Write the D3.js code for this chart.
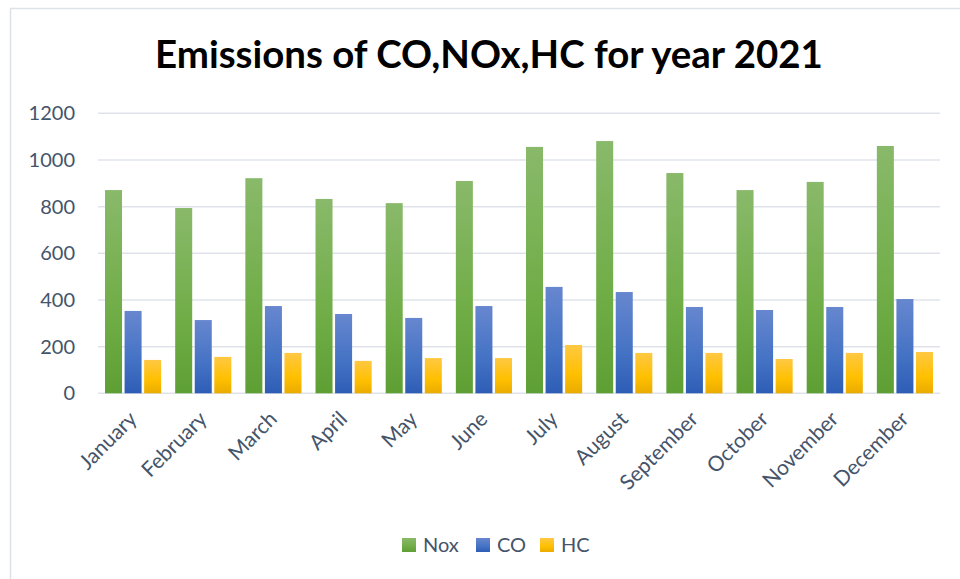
<!DOCTYPE html>
<html>
<head>
<meta charset="utf-8">
<script src="https://cdn.jsdelivr.net/npm/d3@7"></script>
<style>
  body { margin: 0; background: #fff; }
  text { font-family: Lato, "Noto Sans", sans-serif; }
</style>
</head>
<body>
<div id="chart"></div>
<script>
// data
const months = ["January", "February", "March", "April", "May", "June",
                "July", "August", "September", "October", "November", "December"];
const series = ["Nox", "CO", "HC"];
const noxValues = [871, 794, 922, 833, 815, 910, 1056, 1081, 944, 871, 906, 1060];
const coValues  = [353, 314, 374, 340, 323, 374, 456, 434, 370, 357, 370, 404];
const hcValues  = [143, 156, 173, 139, 151, 151, 207, 173, 173, 147, 173, 177];
const yTicks = [0, 200, 400, 600, 800, 1000, 1200];

// colours, top / middle / bottom of each gradient
const seriesColors = {
    Nox: ["#89b96a", "#70ad47", "#5e9f34"],
    CO:  ["#6787cf", "#4472c4", "#2e5db6"],
    HC:  ["#ffc843", "#ffc000", "#eaab00"]
};

const width = 960, height = 579;
const svg = d3.select("#chart").append("svg")
    .attr("width", width)
    .attr("height", height);

// gradients for bar fills
const defs = svg.append("defs");
series.forEach(s => {
    const g = defs.append("linearGradient")
        .attr("id", "grad-" + s)
        .attr("x1", 0).attr("y1", 0).attr("x2", 0).attr("y2", 1);
    g.append("stop").attr("offset", "0%").attr("stop-color", seriesColors[s][0]);
    g.append("stop").attr("offset", "60%").attr("stop-color", seriesColors[s][1]);
    g.append("stop").attr("offset", "100%").attr("stop-color", seriesColors[s][2]);
});

// chart frame (only left and top edges are visible)
svg.append("path")
    .attr("d", "M10.5,579 V8.5 H960")
    .attr("fill", "none")
    .attr("stroke", "#dde2e8")
    .attr("stroke-width", 1.5);

// title, scaled to fit the reference width
const title = svg.append("text")
    .attr("x", 489)
    .attr("y", 68)
    .attr("text-anchor", "middle")
    .attr("font-weight", "bold")
    .attr("font-size", 36)
    .attr("fill", "#000")
    .text("Emissions of CO,NOx,HC for year 2021");
const tw = title.node().getComputedTextLength();
title.attr("font-size", 36 * 668 / tw);

// scales
const plot = { left: 98, right: 940, top: 113.3, bottom: 393.3 };
const x = d3.scaleBand()
    .domain(months)
    .range([plot.left, plot.right])
    .paddingInner(0.2)
    .paddingOuter(0.1);
const xs = d3.scaleBand()
    .domain(series)
    .range([0, x.bandwidth()])
    .paddingInner(0.13);
const y = d3.scaleLinear()
    .domain([0, 1200])
    .range([plot.bottom, plot.top]);

// gridlines
svg.append("g")
    .selectAll("line")
    .data(yTicks)
    .enter()
        .append("line")
        .attr("x1", plot.left)
        .attr("x2", plot.right)
        .attr("y1", d => y(d))
        .attr("y2", d => y(d))
        .attr("stroke", "#dfe3e9")
        .attr("stroke-width", 1.5);

// y axis labels
const yAxis = svg.append("g")
    .attr("transform", `translate(${plot.left - 23},0)`)
    .call(d3.axisLeft(y).tickValues(yTicks).tickFormat(d3.format("d")).tickSize(0).tickPadding(0));
yAxis.select(".domain").remove();
yAxis.selectAll("text")
    .attr("font-family", "Lato, sans-serif")
    .attr("font-size", 20)
    .attr("fill", "#44546a");

// bars
const table = months.map((m, i) => ({
    month: m,
    Nox: noxValues[i],
    CO: coValues[i],
    HC: hcValues[i]
}));

const groups = svg.append("g")
    .selectAll("g")
    .data(table)
    .enter()
        .append("g")
        .attr("transform", d => `translate(${x(d.month)},0)`);

groups.selectAll("rect")
    .data(d => series.map(s => ({ key: s, value: d[s] })))
    .enter()
        .append("rect")
        .attr("x", d => xs(d.key))
        .attr("width", xs.bandwidth())
        .attr("y", d => y(d.value))
        .attr("height", d => y(0) - y(d.value))
        .attr("fill", d => `url(#grad-${d.key})`);

// x axis labels, rotated
const xAxis = svg.append("g")
    .attr("transform", `translate(0,${plot.bottom})`)
    .call(d3.axisBottom(x).tickSize(0).tickPadding(0));
xAxis.select(".domain").remove();
xAxis.selectAll("text")
    .attr("font-family", "Lato, sans-serif")
    .attr("font-size", 21)
    .attr("fill", "#44546a")
    .attr("text-anchor", "end")
    .attr("dy", null)
    .attr("y", null)
    .attr("transform", "translate(5,27) rotate(-45)");

// legend
const legendX = [402, 476, 540];
const legend = svg.append("g")
    .selectAll("g")
    .data(series)
    .enter()
        .append("g")
        .attr("transform", (d, i) => `translate(${legendX[i]},538)`);
legend.append("rect")
    .attr("width", 14)
    .attr("height", 14)
    .attr("fill", d => `url(#grad-${d})`);
legend.append("text")
    .attr("x", 21)
    .attr("y", 14)
    .attr("font-size", 20)
    .attr("fill", "#44546a")
    .text(d => d);
</script>
</body>
</html>
